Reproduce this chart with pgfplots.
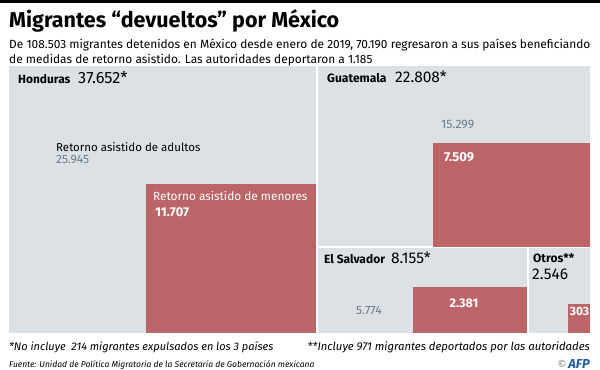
\documentclass[border=0pt]{standalone}
\usepackage{pgfplots}
\pgfplotsset{compat=1.18}
\usepackage{fontspec}
\setmainfont{Fira Sans}
\definecolor{lgray}{HTML}{DCE1E5}
\definecolor{rred}{HTML}{BC6569}
\definecolor{numgray}{HTML}{6E7A85}
\definecolor{afpblue}{HTML}{1F5BAA}
\begin{document}
\begin{tikzpicture}
\begin{axis}[scale only axis, width=600pt, height=376pt,
  xmin=0, xmax=600, ymin=0, ymax=376, y dir=reverse,
  hide axis, clip=false, axis on top=false]
% top black bar
\addplot[fill=black, draw=none] coordinates {(0,0) (600,0) (600,3) (0,3)} -- cycle;
% light boxes (total per country)
\addplot[fill=lgray, draw=none] coordinates {(9,66) (316,66) (316,333) (9,333)} -- cycle;
\addplot[fill=lgray, draw=none] coordinates {(318,66) (590,66) (590,246) (318,246)} -- cycle;
\addplot[fill=lgray, draw=none] coordinates {(318,248) (527,248) (527,333) (318,333)} -- cycle;
\addplot[fill=lgray, draw=none] coordinates {(529,248) (590,248) (590,333) (529,333)} -- cycle;
% red boxes (minors)
\addplot[fill=rred, draw=none] coordinates {(146,184) (316,184) (316,333) (146,333)} -- cycle;
\addplot[fill=rred, draw=none] coordinates {(433,143) (590,143) (590,247.5) (433,247.5)} -- cycle;
\addplot[fill=rred, draw=none] coordinates {(413,287) (527,287) (527,333) (413,333)} -- cycle;
\addplot[fill=rred, draw=none] coordinates {(568,304) (590,304) (590,333) (568,333)} -- cycle;
% titles
\node[anchor=base west, inner sep=0pt, font=\fontsize{21.5}{24}\selectfont\bfseries] at (axis cs:9,28) {Migrantes “devueltos” por México};
\node[anchor=base west, inner sep=0pt, font=\fontsize{11.9}{14}\selectfont] at (axis cs:9,49) {De 108.503 migrantes detenidos en México desde enero de 2019, 70.190 regresaron a sus países beneficiando};
\node[anchor=base west, inner sep=0pt, font=\fontsize{11.9}{14}\selectfont] at (axis cs:9,64) {de medidas de retorno asistido. Las autoridades deportaron a 1.185};
% Honduras
\node[anchor=base west, inner sep=0pt, font=\fontsize{11.9}{13}\selectfont\bfseries] at (axis cs:18,83.5) {Honduras};
\node[anchor=base west, inner sep=0pt, font=\fontsize{16.3}{18}\selectfont] at (axis cs:78,84) {37.652*};
\node[anchor=base west, inner sep=0pt, font=\fontsize{11.5}{14}\selectfont] at (axis cs:56,152) {Retorno asistido de adultos};
\node[anchor=base west, inner sep=0pt, text=numgray, font=\fontsize{12}{13}\selectfont] at (axis cs:56,164) {25.945};
\node[anchor=base west, inner sep=0pt, text=white, font=\fontsize{11.8}{14}\selectfont] at (axis cs:153,201) {Retorno asistido de menores};
\node[anchor=base west, inner sep=0pt, text=white, font=\fontsize{12.8}{14}\selectfont\bfseries] at (axis cs:155,216.5) {11.707};
% Guatemala
\node[anchor=base west, inner sep=0pt, font=\fontsize{12.1}{13}\selectfont\bfseries] at (axis cs:327,82.5) {Guatemala};
\node[anchor=base west, inner sep=0pt, font=\fontsize{15.5}{17}\selectfont] at (axis cs:395,83) {22.808*};
\node[anchor=base west, inner sep=0pt, text=numgray, font=\fontsize{12.2}{13}\selectfont] at (axis cs:441,129) {15.299};
\node[anchor=base west, inner sep=0pt, text=white, font=\fontsize{13}{14}\selectfont\bfseries] at (axis cs:444,162) {7.509};
% El Salvador
\node[anchor=base west, inner sep=0pt, font=\fontsize{12}{13}\selectfont\bfseries] at (axis cs:324,264) {El Salvador};
\node[anchor=base west, inner sep=0pt, font=\fontsize{15.5}{17}\selectfont] at (axis cs:391,263.5) {8.155*};
\node[anchor=base west, inner sep=0pt, text=numgray, font=\fontsize{12}{13}\selectfont] at (axis cs:356,315) {5.774};
\node[anchor=base, inner sep=0pt, text=white, font=\fontsize{12.5}{13}\selectfont\bfseries] at (axis cs:464,308) {2.381};
% Otros
\node[anchor=base west, inner sep=0pt, font=\fontsize{12}{13}\selectfont\bfseries] at (axis cs:533,263) {Otros**};
\node[anchor=base west, inner sep=0pt, font=\fontsize{15.5}{17}\selectfont] at (axis cs:532,279.5) {2.546};
\node[anchor=base, inner sep=0pt, text=white, font=\fontsize{12}{13}\selectfont\bfseries] at (axis cs:579.5,316) {303};
% footnotes
\node[anchor=base west, inner sep=0pt, font=\fontsize{11}{13}\selectfont\itshape] at (axis cs:9,351) {*No incluye\ \ 214 migrantes expulsados en los 3 países};
\node[anchor=base east, inner sep=0pt, font=\fontsize{11.3}{13}\selectfont\itshape] at (axis cs:590,351) {**Incluye 971 migrantes deportados por las autoridades};
\node[anchor=base west, inner sep=0pt, font=\fontsize{8.5}{10}\selectfont\itshape] at (axis cs:9,368) {Fuente: Unidad de Política Migratoria de la Secretaría de Gobernación mexicana};
\node[anchor=base east, inner sep=0pt, font=\fontsize{11}{12}\selectfont] at (axis cs:590,368.5) {\textcolor{gray}{©}\,\textcolor{afpblue}{\fontsize{13}{14}\selectfont\bfseries\itshape AFP}};
\end{axis}
\end{tikzpicture}
\end{document}
